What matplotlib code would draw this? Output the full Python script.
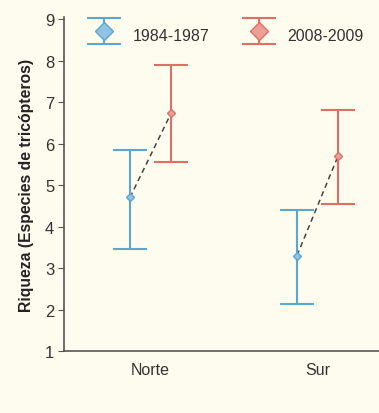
import numpy as np
import matplotlib
matplotlib.use("Agg")
import matplotlib.pyplot as plt
from matplotlib.legend_handler import HandlerErrorbar

# data
vertientes = ["Norte", "Sur"]
periodos = ["1984-1987", "2008-2009"]
media_1984 = [4.70, 3.30]
inf_1984 = [3.47, 2.13]
sup_1984 = [5.85, 4.40]
media_2008 = [6.73, 5.70]
inf_2008 = [5.55, 4.55]
sup_2008 = [7.90, 6.82]

# style
bg = "#fefcee"
azul = "#5aa6d4"
azul_rell = "#92c3e2"
rojo = "#de6f64"
rojo_rell = "#eb9f96"
gris = "#333333"

plt.rcParams['font.family'] = ['Liberation Sans', 'DejaVu Sans']

fig = plt.figure(figsize=[3.79, 4.14], dpi=100, facecolor=bg)
ax = fig.add_axes([64/379, 1 - 352/414, 1 - 64/379, (352 - 18)/414])
ax.set_facecolor(bg)

x = np.arange(len(vertientes))
d = 0.123

m1, e1 = np.array(media_1984), [np.array(media_1984) - inf_1984, np.array(sup_1984) - media_1984]
m2, e2 = np.array(media_2008), [np.array(media_2008) - inf_2008, np.array(sup_2008) - media_2008]

for i in range(len(x)):
    ax.plot([x[i] - d, x[i] + d], [m1[i], m2[i]], '--', color="#444444", lw=1.1, dashes=(3.5, 2.5), zorder=1)

ax.errorbar(x - d, m1, yerr=e1, fmt='D', color=azul, mfc=azul_rell, mec=azul, ms=4.5,
            elinewidth=1.5, capsize=12, capthick=1.5, label=periodos[0], zorder=3)
ax.errorbar(x + d, m2, yerr=e2, fmt='D', color=rojo, mfc=rojo_rell, mec=rojo, ms=4.5,
            elinewidth=1.5, capsize=12, capthick=1.5, label=periodos[1], zorder=3)

ax.set_xlim(-0.518, 1.368)
ax.set_ylim(1, 9.05)
ax.set_yticks(range(1, 10))
ax.set_xticks(x)
ax.set_xticklabels(vertientes)

for s in ["top", "right"]:
    ax.spines[s].set_visible(False)
for s in ["left", "bottom"]:
    ax.spines[s].set_color("#555555")
    ax.spines[s].set_linewidth(1.2)
ax.tick_params(axis='y', length=4, color="#555555", labelsize=12, labelcolor=gris, pad=3)
ax.tick_params(axis='x', length=0, labelsize=11.5, labelcolor=gris, pad=8)

ax.set_ylabel("Riqueza (Especies de tricópteros)", fontsize=11.3, fontweight='bold', color="#222222", labelpad=8)
ax.set_xlabel("Vertiente de Sierra Nevada", fontsize=11.5, fontweight='bold', color="#222222", labelpad=32)

leg = ax.legend(loc='upper left', bbox_to_anchor=(0.025, 1.03), ncol=2, frameon=False,
                markerscale=2.1, fontsize=11.5, handlelength=2.2, handleheight=2.3,
                columnspacing=2.0, handletextpad=0.7, labelcolor=gris,
                handler_map={type(ax.containers[0]): HandlerErrorbar(yerr_size=0.82)})

plt.savefig("out.png", dpi=100, facecolor=bg)
